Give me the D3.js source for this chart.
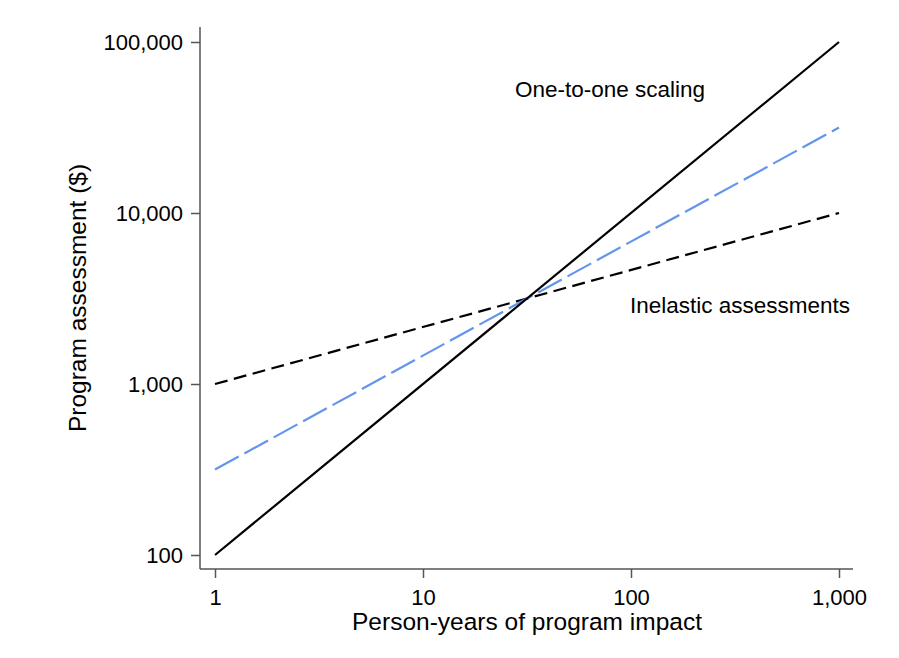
<!DOCTYPE html>
<html>
<head>
<meta charset="utf-8">
<script src="https://cdn.jsdelivr.net/npm/d3@7"></script>
<style>
  body { margin: 0; background: #fff; }
  text { font-family: "Liberation Sans", Arial, sans-serif; }
</style>
</head>
<body>
<div id="chart"></div>
<script>
const years = [1, 1000];
const oneToOne = [100, 100000];
const middle = [316, 31600];
const inelastic = [1000, 10000];
const xTicks = [1, 10, 100, 1000];
const yTicks = [100, 1000, 10000, 100000];

const width = 899, height = 658;
const fmt = d3.format(",");

const svg = d3.select("#chart").append("svg")
    .attr("width", width)
    .attr("height", height);

const x = d3.scaleLog().domain([1, 1000]).range([215, 839]);
const y = d3.scaleLog().domain([100, 100000]).range([555, 42]);

const axisColor = "#555";

// y axis
const yAxis = svg.append("g")
    .attr("transform", "translate(200,0)")
    .call(d3.axisLeft(y).tickValues(yTicks).tickFormat(fmt).tickSize(9).tickPadding(8));
yAxis.select(".domain").attr("d", "M0,27V569").attr("stroke", axisColor).attr("stroke-width", 1.5);
yAxis.selectAll(".tick line").attr("stroke", axisColor).attr("stroke-width", 1.5);
yAxis.selectAll(".tick text").style("font-size", "22px").attr("fill", "#000");

// x axis
const xAxis = svg.append("g")
    .attr("transform", "translate(0,569)")
    .call(d3.axisBottom(x).tickValues(xTicks).tickFormat(fmt).tickSize(9).tickPadding(11));
xAxis.select(".domain").attr("d", "M200,0H853").attr("stroke", axisColor).attr("stroke-width", 1.5);
xAxis.selectAll(".tick line").attr("stroke", axisColor).attr("stroke-width", 1.5);
xAxis.selectAll(".tick text").style("font-size", "22px").attr("fill", "#000");

// titles
svg.append("text")
    .attr("x", 527).attr("y", 630)
    .attr("text-anchor", "middle")
    .style("font-size", "24.5px")
    .text("Person-years of program impact");

svg.append("text")
    .attr("transform", "translate(86,298) rotate(-90)")
    .attr("text-anchor", "middle")
    .style("font-size", "24.5px")
    .text("Program assessment ($)");

function drawLine(values, color, dash) {
    const line = d3.line()
        .x((d, i) => x(years[i]))
        .y(d => y(d));
    svg.append("path")
        .datum(values)
        .attr("fill", "none")
        .attr("stroke", color)
        .attr("stroke-width", 2.2)
        .attr("stroke-dasharray", dash)
        .attr("d", line);
}

drawLine(inelastic, "#000", "13,6.5");
drawLine(middle, "#6495ED", "27,6.5");
drawLine(oneToOne, "#000", null);

svg.append("text")
    .attr("x", 515).attr("y", 97)
    .style("font-size", "22.5px")
    .text("One-to-one scaling");

svg.append("text")
    .attr("x", 630).attr("y", 313)
    .style("font-size", "22.5px")
    .text("Inelastic assessments");
</script>
</body>
</html>
